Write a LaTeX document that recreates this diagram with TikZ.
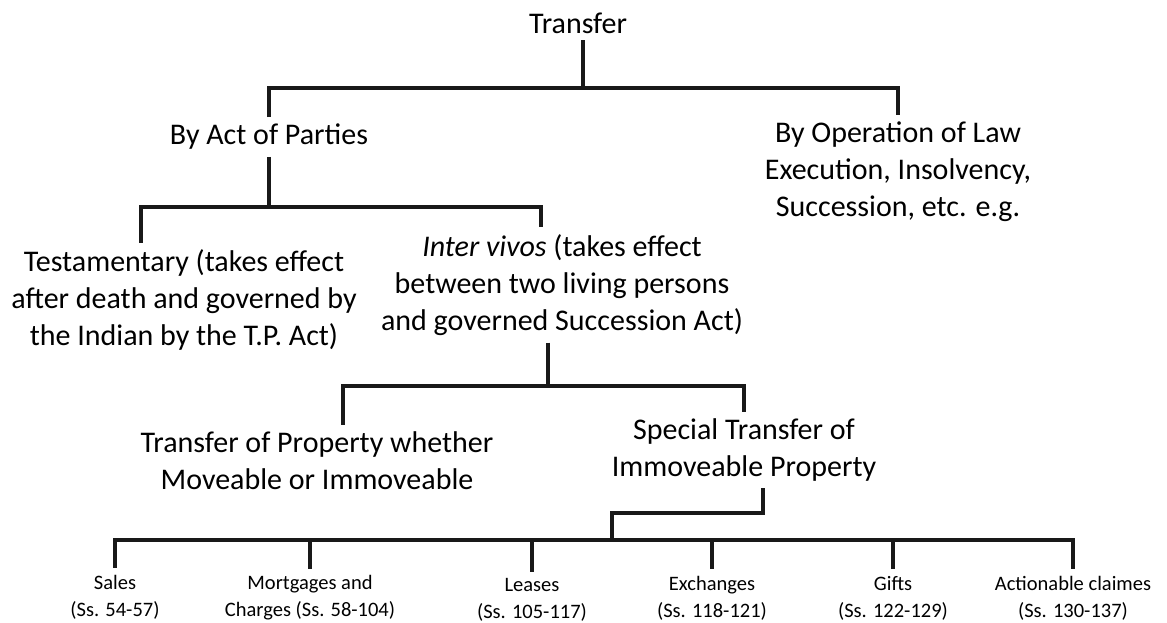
\documentclass[tikz,border=0pt]{standalone}
\usepackage{fontspec}
\setmainfont{Carlito}
\usetikzlibrary{positioning}

\begin{document}
\begin{tikzpicture}[x=1pt, y=-1pt,
  lbl/.style={align=center, font=\fontsize{30}{37}\selectfont,
              inner sep=0pt, outer sep=7pt},
  leaf/.style={align=center, font=\fontsize{20.5}{27}\selectfont,
               inner sep=0pt, outer sep=7pt},
  conn/.style={draw=black!90, line width=3.2pt},
]
\useasboundingbox (0,0) rectangle (1167,623);
% top levels
\node[lbl] (transfer) at (578,23)  {Transfer};
\node[lbl] (act)      at (269,137) {By Act of Parties};
\node[lbl] (law)      at (898,172) {By Operation of Law\\Execution, Insolvency,\\Succession, etc. e.g.};
\node[lbl] (test)     at (184,300) {Testamentary (takes effect\\after death and governed by\\the Indian by the T.P. Act)};
\node[lbl] (inter)    at (562,285) {\textit{Inter vivos} (takes effect\\between two living persons\\and governed Succession Act)};
\node[lbl] (prop)     at (317,461) {Transfer of Property whether\\Moveable or Immoveable};
\node[lbl] (special)  at (744,450) {Special Transfer of\\Immoveable Property};
% leaves
\node[leaf] (sales)  at (115,597)  {Sales\\(Ss. 54-57)};
\node[leaf] (mort)   at (310,598)  {Mortgages and\\Charges (Ss. 58-104)};
\node[leaf] (leases) at (532,600)  {Leases\\(Ss. 105-117)};
\node[leaf] (exch)   at (712,598)  {Exchanges\\(Ss. 118-121)};
\node[leaf] (gifts)  at (893,598)  {Gifts\\(Ss. 122-129)};
\node[leaf] (claims) at (1073,598) {Actionable claimes\\(Ss. 130-137)};

% joints
\coordinate (j1) at (583,88);
\coordinate (j2) at (269,207);
\coordinate (j3) at (548,386);
\coordinate (k4) at (612,513);
\coordinate (j4) at (612,540);

\draw[conn] ([xshift=5pt]transfer.south) -- (j1);
\draw[conn] (act.north) |- (j1) -| (law.north);
\draw[conn] (act.south) -- (j2);
\draw[conn] ([xshift=-43pt]test.north) |- (j2) -| ([xshift=-21pt]inter.north);
\draw[conn] (inter.south -| j3) -- (j3);
\draw[conn] ([xshift=26pt]prop.north) |- (j3) -| (special.north);
\draw[conn] ([xshift=19pt]special.south) |- (k4) -- (j4);
\draw[conn] (sales.north) |- (j4) -| (claims.north);
\foreach \n in {mort,leases,exch,gifts}
  \draw[conn] (\n.north) -- (\n.north |- j4);
\end{tikzpicture}
\end{document}
